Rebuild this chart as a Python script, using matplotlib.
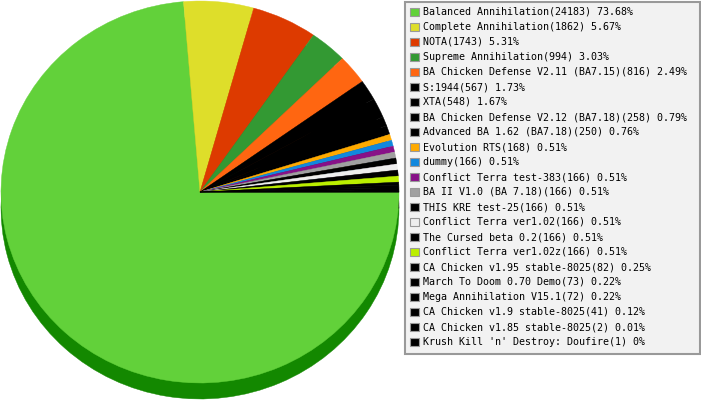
import matplotlib
matplotlib.use("Agg")
import matplotlib.pyplot as plt
from matplotlib.patches import Rectangle
import numpy as np

mods = ["Balanced Annihilation", "Complete Annihilation", "NOTA", "Supreme Annihilation",
        "BA Chicken Defense V2.11 (BA7.15)", "S:1944", "XTA",
        "BA Chicken Defense V2.12 (BA7.18)", "Advanced BA 1.62 (BA7.18)", "Evolution RTS",
        "dummy", "Conflict Terra test-383", "BA II V1.0 (BA 7.18)", "THIS KRE test-25",
        "Conflict Terra ver1.02", "The Cursed beta 0.2", "Conflict Terra ver1.02z",
        "CA Chicken v1.95 stable-8025", "March To Doom 0.70 Demo", "Mega Annihilation V15.1",
        "CA Chicken v1.9 stable-8025", "CA Chicken v1.85 stable-8025",
        "Krush Kill 'n' Destroy: Doufire"]
games = [24183, 1862, 1743, 994, 816, 567, 548, 258, 250, 168,
         166, 166, 166, 166, 166, 166, 166, 82, 73, 72, 41, 2, 1]
colors = ["#62d13a", "#dede2a", "#dd3a00", "#339933", "#ff6611", "#000000", "#000000",
          "#000000", "#000000", "#ffaa00", "#1188dd", "#881188", "#a0a0a0", "#000000",
          "#eeeeee", "#000000", "#bbee00", "#000000", "#000000", "#000000", "#000000",
          "#000000", "#000000"]

total = sum(games)
labels = [f"{m}({g}) {round(100 * g / total, 2):g}%" for m, g in zip(mods, games)]


def darker(c):
    if c == "#62d13a":
        return "#138800"
    r, g, b = matplotlib.colors.to_rgb(c)
    return (r * 0.55, g * 0.55, b * 0.55)


W, H = 701, 400
fig = plt.figure(figsize=(W / 100, H / 100), dpi=100)

# pie axes in pixel units (x), y stretched a bit so the pie is a flat ellipse
rx, ry = 199, 191
k = rx / ry
ax = fig.add_axes([0, 0, 1, 1])


def py(y):
    return (H - y) * k


cx, cy, depth = 200, 192, 16

side, _ = ax.pie(games, colors=[darker(c) for c in colors], startangle=0, counterclock=False,
                 center=(cx, py(cy + depth)), radius=rx, wedgeprops={"linewidth": 0})
top, _ = ax.pie(games, colors=colors, startangle=0, counterclock=False,
                center=(cx, py(cy)), radius=rx, wedgeprops={"linewidth": 0})
for w in top + side:
    w.set_edgecolor(w.get_facecolor())
    w.set_linewidth(0.3)

ax.set_aspect("auto")
ax.set_xlim(0, W)
ax.set_ylim(0, H * k)
ax.axis("off")

# legend box, drawn in plain pixel coordinates
lg = fig.add_axes([0, 0, 1, 1])
lg.set_xlim(0, W)
lg.set_ylim(H, 0)
lg.axis("off")
lg.add_patch(Rectangle((405, 1.5), 294.5, 352, facecolor="#f2f2f2", edgecolor="#999999", lw=1.5))
for i, (lab, c) in enumerate(zip(labels, colors)):
    y = 12 + 15 * i
    lg.add_patch(Rectangle((410, y - 4.5), 8.5, 8.5, facecolor=c, edgecolor="#999999", lw=0.8))
    lg.text(423, y, lab, fontsize=7.2, family="DejaVu Sans Mono", va="center", ha="left",
            color="black")

fig.savefig("out.png", dpi=100)
